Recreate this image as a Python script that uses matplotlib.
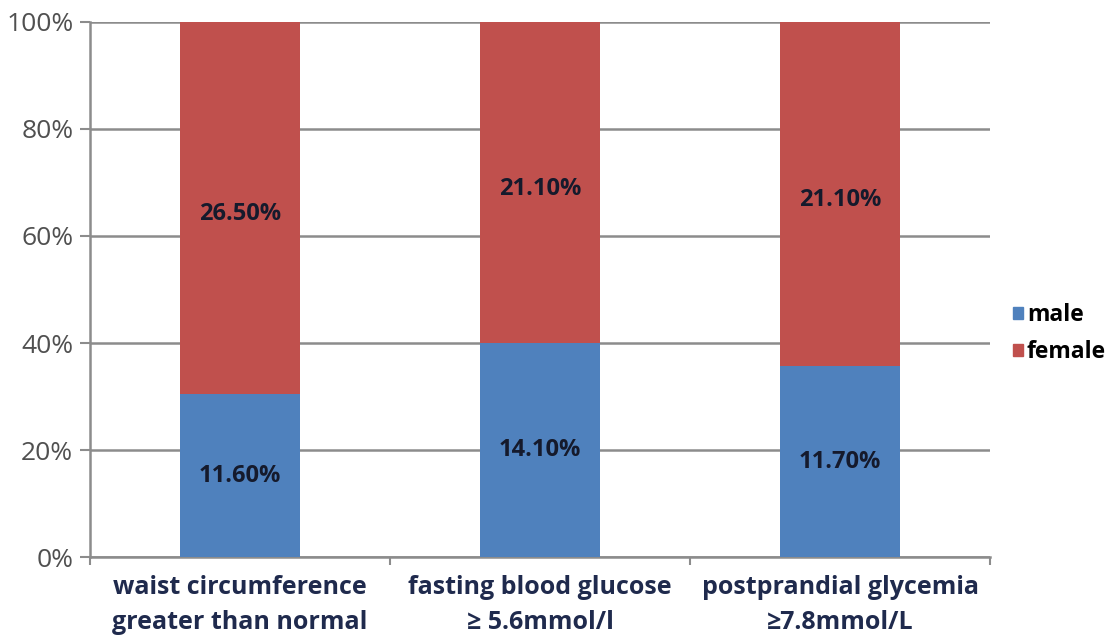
import matplotlib
matplotlib.use("Agg")
import matplotlib.pyplot as plt
import numpy as np
from matplotlib.patches import Patch

categories = [
    "waist circumference\ngreater than normal",
    "fasting blood glucose\n≥ 5.6mmol/l",
    "postprandial glycemia\n≥7.8mmol/L",
]
male = np.array([11.6, 14.1, 11.7])
female = np.array([26.5, 21.1, 21.1])
male_labels = ["11.60%", "14.10%", "11.70%"]
female_labels = ["26.50%", "21.10%", "21.10%"]

BLUE = "#4F81BD"
RED = "#C0504D"
GRID = "#8C8C8C"


def draw():
    plt.rcParams["font.family"] = ["Open Sans", "DejaVu Sans"]
    fig = plt.figure(figsize=(11.17, 6.39), dpi=100)
    ax = fig.add_axes([0.0806, 0.1283, 0.8057, 0.8373])

    total = male + female
    male_pct = male / total * 100
    female_pct = female / total * 100
    x = np.arange(len(categories))

    ax.bar(x, male_pct, width=0.4, color=BLUE, zorder=3)
    ax.bar(x, female_pct, width=0.4, bottom=male_pct, color=RED, zorder=3)

    for i in range(len(x)):
        ax.text(x[i], male_pct[i] / 2, male_labels[i], ha="center", va="center",
                fontsize=17, fontweight="bold", color="#151a2c", zorder=4)
        ax.text(x[i], male_pct[i] + female_pct[i] / 2 - 1.2, female_labels[i], ha="center",
                va="center", fontsize=17, fontweight="bold", color="#151a2c", zorder=4)

    ax.set_xlim(-0.5, len(x) - 0.5)
    ax.set_ylim(0, 100)
    ax.set_yticks(np.arange(0, 101, 20))
    ax.set_yticklabels([f"{v}%" for v in range(0, 101, 20)])
    ax.yaxis.grid(True, color=GRID, linewidth=1.8, zorder=0)

    ax.set_xticks(x)
    ax.set_xticklabels(categories, fontsize=18, fontweight="bold", color="#1f2a4d",
                       linespacing=1.5)
    ax.tick_params(axis="x", length=0, pad=13)
    ax.set_xticks(np.arange(-0.5, len(x)), minor=True)
    ax.tick_params(axis="x", which="minor", length=6, color=GRID, width=1.5)
    ax.tick_params(axis="y", length=7, color=GRID, width=1.5, labelsize=19,
                   labelcolor="#505050", pad=5)

    for s in ["top", "right"]:
        ax.spines[s].set_visible(False)
    for s in ["left", "bottom"]:
        ax.spines[s].set_color(GRID)
        ax.spines[s].set_linewidth(1.8)

    handles = [Patch(color=BLUE, label="male"), Patch(color=RED, label="female")]
    fig.legend(handles=handles, loc="center left", bbox_to_anchor=(0.907, 0.478),
               frameon=False, handlelength=0.45, handleheight=0.45, handletextpad=0.15,
               labelspacing=0.55, borderaxespad=0, borderpad=0,
               prop={"size": 16.5, "weight": "bold"})

    fig.savefig("out.png", dpi=100)


if __name__ == "__main__":
    draw()
